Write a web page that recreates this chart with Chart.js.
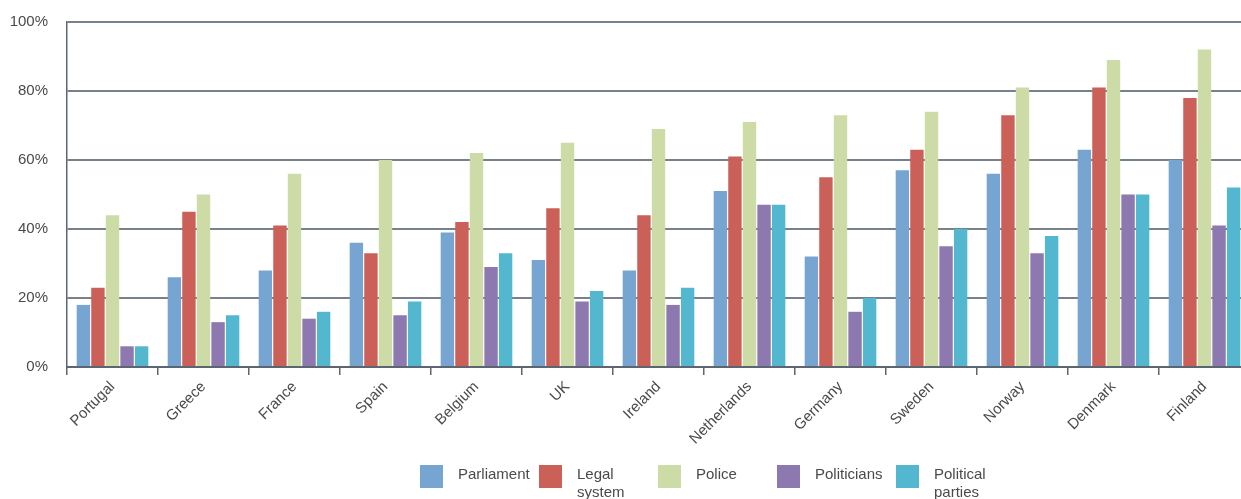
<!DOCTYPE html>
<html>
<head>
<meta charset="utf-8">
<script src="https://cdn.jsdelivr.net/npm/chart.js@4.4.1/dist/chart.umd.min.js"></script>
<style>
  html, body { margin: 0; padding: 0; background: #fff; overflow: hidden; }
  #wrap { position: relative; width: 1241px; height: 499px; overflow: hidden; }
  #box { position: absolute; left: 0; top: -6px; width: 1260px; height: 505px; }
  #legend {
    position: absolute; left: 420px; top: 465px;
    display: flex; font-family: "Liberation Sans", Arial, sans-serif;
    font-size: 15px; color: #4a4a4a; line-height: 18px;
  }
  .item { display: flex; width: 119px; }
  .swatch { width: 23px; height: 23px; margin-right: 15px; flex: none; }
</style>
</head>
<body>
<div id="wrap">
  <div id="box"><canvas id="chart" width="1260" height="505"></canvas></div>
  <div id="legend"></div>
</div>
<script>
'use strict';

const countries = ['Portugal', 'Greece', 'France', 'Spain', 'Belgium', 'UK', 'Ireland',
  'Netherlands', 'Germany', 'Sweden', 'Norway', 'Denmark', 'Finland'];

const parliament  = [18, 26, 28, 36, 39, 31, 28, 51, 32, 57, 56, 63, 60];
const legalSystem = [23, 45, 41, 33, 42, 46, 44, 61, 55, 63, 73, 81, 78];
const police      = [44, 50, 56, 60, 62, 65, 69, 71, 73, 74, 81, 89, 92];
const politicians = [ 6, 13, 14, 15, 29, 19, 18, 47, 16, 35, 33, 50, 41];
const parties     = [ 6, 15, 16, 19, 33, 22, 23, 47, 20, 40, 38, 50, 52];

const yTicks = [0, 20, 40, 60, 80, 100];

const series = [
  { label: 'Parliament',        lines: ['Parliament'],           data: parliament,  color: '#75a5d0' },
  { label: 'Legal system',      lines: ['Legal', 'system'],      data: legalSystem, color: '#cb6059' },
  { label: 'Police',            lines: ['Police'],               data: police,      color: '#cddca6' },
  { label: 'Politicians',       lines: ['Politicians'],          data: politicians, color: '#8e78b0' },
  { label: 'Political parties', lines: ['Political', 'parties'], data: parties,     color: '#53b7cf' },
];

const AXIS = '#5b6670';
const FONT = '"Liberation Sans", Arial, sans-serif';

new Chart(document.getElementById('chart'), {
  type: 'bar',
  data: {
    labels: countries,
    datasets: series.map(s => ({
      label: s.label,
      data: s.data,
      backgroundColor: s.color,
      borderWidth: 0,
      categoryPercentage: 0.8,
      barPercentage: 0.92,
    })),
  },
  options: {
    responsive: false,
    animation: false,
    layout: { padding: { top: 6, right: 10, left: 0, bottom: 0 } },
    plugins: { legend: { display: false }, tooltip: { enabled: false } },
    scales: {
      x: {
        offset: true,
        grid: { offset: true, drawOnChartArea: false, drawTicks: true, tickLength: 8, color: AXIS, lineWidth: 1.5 },
        border: { display: true, color: AXIS, width: 2 },
        ticks: {
          autoSkip: false, minRotation: 45, maxRotation: 45, padding: 3,
          color: '#4a4a4a', font: { family: FONT, size: 15 },
        },
        afterFit: (scale) => { scale.height = 132; },
      },
      y: {
        min: 0, max: 100,
        afterBuildTicks: (scale) => { scale.ticks = yTicks.map(v => ({ value: v })); },
        grid: { color: '#76818b', lineWidth: 2, drawTicks: false },
        border: { display: true, color: AXIS, width: 1.5 },
        ticks: {
          padding: 19, color: '#4a4a4a', font: { family: FONT, size: 15 },
          callback: (v) => v + '%',
        },
        afterFit: (scale) => { scale.width = 67; },
      },
    },
  },
});

// legend kept as html so the two-line labels wrap like the original
const legend = document.getElementById('legend');
series.forEach(s => {
  const item = document.createElement('div');
  item.className = 'item';
  const sw = document.createElement('div');
  sw.className = 'swatch';
  sw.style.background = s.color;
  const lbl = document.createElement('div');
  lbl.innerHTML = s.lines.join('<br>');
  item.appendChild(sw);
  item.appendChild(lbl);
  legend.appendChild(item);
});
</script>
</body>
</html>
